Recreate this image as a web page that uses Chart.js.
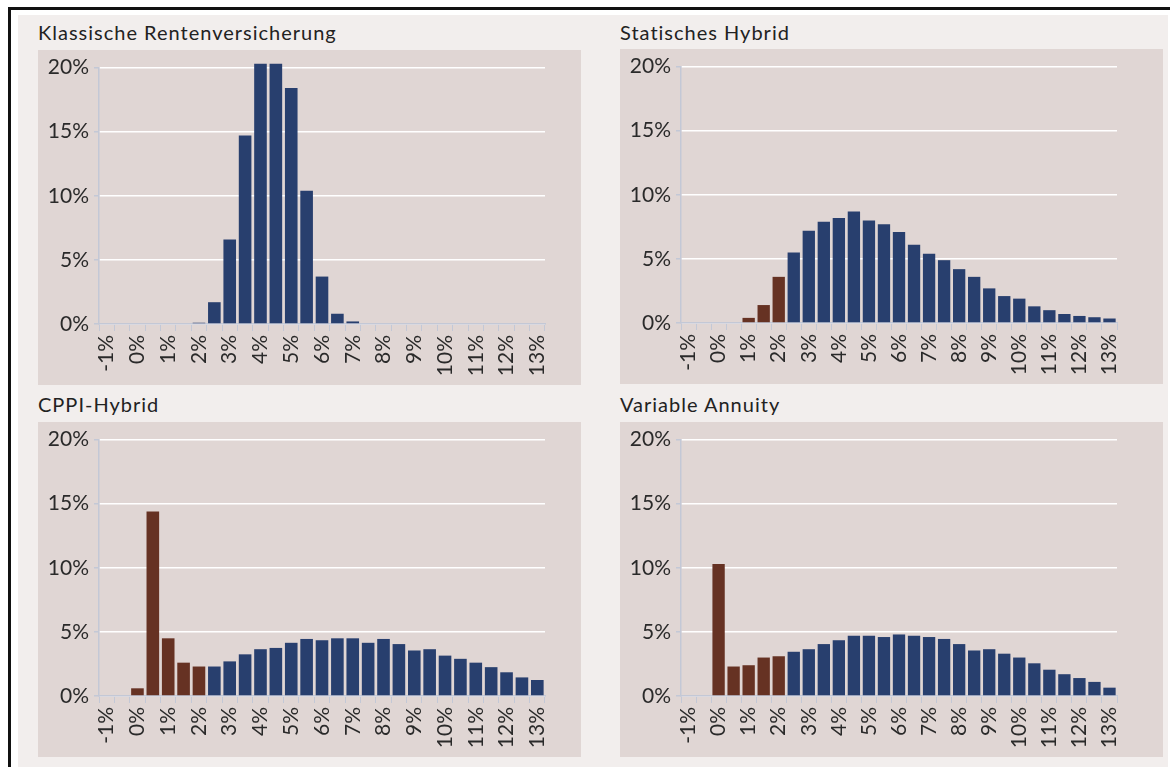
<!DOCTYPE html>
<html>
<head>
<meta charset="utf-8">
<script src="https://cdn.jsdelivr.net/npm/chart.js@4.4.1/dist/chart.umd.min.js"></script>
<style>
  body { margin: 0; background: #ffffff; width: 1170px; height: 767px; overflow: hidden; position: relative; font-family: Lato, "Open Sans", sans-serif; }
  #frame { position: absolute; left: 8px; top: 7px; width: 1170px; height: 780px; border-left: 3px solid #111; border-top: 3px solid #111; }
  #bg { position: absolute; left: 18px; top: 15px; width: 1150px; height: 760px; background: #f2eeed; }
  .title { position: absolute; font-size: 20px; line-height: 20px; letter-spacing: 1px; color: #222; white-space: nowrap; }
  .panel { position: absolute; width: 543px; height: 335px; background: #e0d6d4; }
</style>
</head>
<body>
<div id="frame"></div>
<div id="bg"></div>

<div class="title" style="left:38px; top:22px;">Klassische Rentenversicherung</div>
<div class="title" style="left:620px; top:22px;">Statisches Hybrid</div>
<div class="title" style="left:38px; top:394px;">CPPI-Hybrid</div>
<div class="title" style="left:620px; top:394px;">Variable Annuity</div>

<div class="panel" style="left:38px; top:50px;"><canvas id="c1"></canvas></div>
<div class="panel" style="left:620px; top:49px;"><canvas id="c2"></canvas></div>
<div class="panel" style="left:38px; top:422px;"><canvas id="c3"></canvas></div>
<div class="panel" style="left:620px; top:422px;"><canvas id="c4"></canvas></div>

<script>
// return classes, -1% .. 13% in half percent steps
const categories = ['-1%', '-0,5%', '0%', '0,5%', '1%', '1,5%', '2%', '2,5%', '3%', '3,5%',
  '4%', '4,5%', '5%', '5,5%', '6%', '6,5%', '7%', '7,5%', '8%', '8,5%', '9%', '9,5%',
  '10%', '10,5%', '11%', '11,5%', '12%', '12,5%', '13%'];

// share of scenarios (%)
const klassisch = [0, 0, 0, 0, 0, 0, 0.1, 1.7, 6.6, 14.7, 20.3, 20.3, 18.4, 10.4, 3.7, 0.8, 0.2,
  0, 0, 0, 0, 0, 0, 0, 0, 0, 0, 0, 0];
const statisch = [0, 0, 0, 0, 0.4, 1.4, 3.6, 5.5, 7.2, 7.9, 8.2, 8.7, 8.0, 7.7, 7.1, 6.1, 5.4,
  4.9, 4.2, 3.6, 2.7, 2.1, 1.9, 1.3, 1.0, 0.7, 0.55, 0.45, 0.35];
const cppi = [0, 0, 0.6, 14.4, 4.5, 2.6, 2.3, 2.3, 2.7, 3.25, 3.65, 3.75, 4.15, 4.45, 4.35, 4.5,
  4.5, 4.15, 4.45, 4.05, 3.55, 3.65, 3.15, 2.9, 2.6, 2.25, 1.85, 1.45, 1.25];
const variable = [0, 0, 10.3, 2.3, 2.4, 3.0, 3.1, 3.45, 3.65, 4.05, 4.35, 4.7, 4.7, 4.6, 4.8, 4.7,
  4.6, 4.45, 4.05, 3.55, 3.65, 3.3, 3.0, 2.55, 2.05, 1.7, 1.4, 1.1, 0.65];

// last class shown in brown (below 2.5%), -1 = none
const shortfallUpTo = [-1, 6, 6, 6];

const yTicks = [0, 5, 10, 15, 20];

const BLUE = '#283f6e';
const BROWN = '#663223';
const AXIS = '#c3c8d6';

Chart.defaults.font.family = 'Lato, "Open Sans", sans-serif';
Chart.defaults.font.size = 21;
Chart.defaults.color = '#2a2a2a';

function makeChart(id, values, brownIdx, rightPad) {
  new Chart(document.getElementById(id), {
    type: 'bar',
    data: {
      labels: categories,
      datasets: [{
        data: values,
        backgroundColor: ctx => ctx.dataIndex <= brownIdx ? BROWN : BLUE,
        barPercentage: 0.82,
        categoryPercentage: 1.0,
        clip: false
      }]
    },
    options: {
      responsive: true,
      maintainAspectRatio: false,
      animation: false,
      layout: { padding: { top: 17, right: rightPad, left: 0, bottom: 0 } },
      plugins: { legend: { display: false }, tooltip: { enabled: false } },
      scales: {
        x: {
          grid: { drawOnChartArea: false, drawTicks: true, tickLength: 7, color: AXIS, lineWidth: 1 },
          border: { display: true, color: AXIS, width: 1.5 },
          ticks: {
            autoSkip: false,
            minRotation: 90,
            maxRotation: 90,
            padding: 4,
            callback: (v, i) => i % 2 === 0 ? categories[i] : ''
          },
          afterFit: s => { s.height = 61; }
        },
        y: {
          min: 0,
          max: 20,
          afterBuildTicks: s => { s.ticks = yTicks.map(v => ({ value: v })); },
          grid: { color: '#ffffff', lineWidth: 1.5, tickColor: AXIS, tickLength: 5, drawTicks: true },
          border: { display: true, color: AXIS, width: 1.5 },
          ticks: { padding: 5, callback: v => v + '%' },
          afterFit: s => { s.width = 61; }
        }
      }
    }
  });
}

makeChart('c1', klassisch, shortfallUpTo[0], 36);
makeChart('c2', statisch, shortfallUpTo[1], 46);
makeChart('c3', cppi, shortfallUpTo[2], 36);
makeChart('c4', variable, shortfallUpTo[3], 46);
</script>
</body>
</html>
